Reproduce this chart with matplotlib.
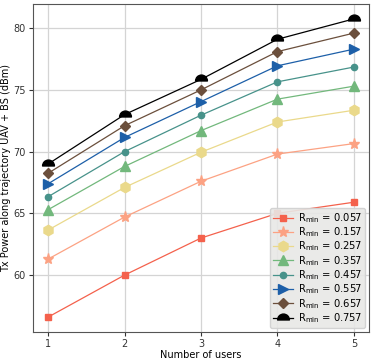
import numpy as np
import matplotlib
matplotlib.use("Agg")
import matplotlib.pyplot as plt
from matplotlib.path import Path
from matplotlib.transforms import Affine2D

# data
users = [1, 2, 3, 4, 5]
rmin = [0.057, 0.157, 0.257, 0.357, 0.457, 0.557, 0.657, 0.757]
p_057 = [56.6, 60.0, 63.0, 65.0, 65.9]
p_157 = [61.3, 64.7, 67.6, 69.8, 70.65]
p_257 = [63.65, 67.1, 69.95, 72.4, 73.35]
p_357 = [65.3, 68.8, 71.7, 74.25, 75.3]
p_457 = [66.35, 70.0, 72.95, 75.65, 76.85]
p_557 = [67.4, 71.15, 74.05, 76.95, 78.3]
p_657 = [68.25, 72.1, 75.0, 78.1, 79.6]
p_757 = [69.0, 73.0, 75.85, 79.1, 80.75]
series = [p_057, p_157, p_257, p_357, p_457, p_557, p_657, p_757]

# half-circle marker for the last series
half = Path.unit_circle_righthalf().transformed(Affine2D().rotate_deg(90).translate(0, -0.25))

colors = ['#f4614c', '#fca283', '#ead98b', '#72b87c', '#47928a', '#1d5fa8', '#6b4f3c', 'black']
markers = ['s', '*', 'h', '^', 'o', '>', 'D', half]
sizes = [5, 8, 7.5, 7, 4.5, 7, 5, 8.5]

plt.rcParams['font.size'] = 7
plt.rcParams['mathtext.default'] = 'regular'
fig, ax = plt.subplots(figsize=(3.74, 3.62), dpi=100)

for vals, r, c, m, s in zip(series, rmin, colors, markers, sizes):
    ax.plot(users, vals, color=c, marker=m, markersize=s, linewidth=0.9,
            label=r'R$_{min}$ = %.3f' % r)

ax.set_xticks(users)
ax.grid(True, color='#d4d4d4', linewidth=0.9)
for sp in ax.spines.values():
    sp.set_color('#555555')
ax.tick_params(colors='#333333', length=3, pad=2, labelsize=7)
ax.set_xlabel("Number of users", labelpad=1, fontsize=7)
ax.set_ylabel("Tx Power along trajectory UAV + BS (dBm)", labelpad=2, fontsize=7)

leg = ax.legend(loc="lower right", facecolor='#e8e8e6', edgecolor='#d0d0d0',
                framealpha=0.9, handlelength=2.0, labelspacing=0.05,
                borderpad=0.3, handletextpad=0.5, fontsize=7.2,
                borderaxespad=0.4)

plt.subplots_adjust(left=0.088, right=0.987, top=0.989, bottom=0.083)
plt.savefig("out.png", dpi=100)
